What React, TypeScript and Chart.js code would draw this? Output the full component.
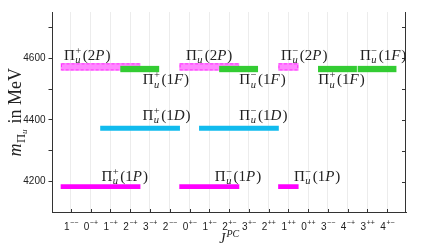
import { useEffect, useRef } from 'react';
import { Chart, registerables } from 'chart.js';

Chart.register(...registerables);

// ---- data ----
const xTickLabels = ['1--', '0-+', '1-+', '2-+', '3-+', '2--', '0+-', '1+-', '2+-', '3+-', '2++', '1++', '0++', '3--', '4-+', '3++', '4+-'];
const yTicks = [4200, 4300, 4400, 4500, 4600, 4700];
const yTickLabelled = [4200, 4400, 4600];

const spans1P = [[0.5, 4.5], [6.5, 9.5], [11.5, 12.5]];
const mass1P = [4184, 4184, 4184];
const spans1D = [[2.5, 6.5], [7.5, 11.5]];
const mass1D = [4373, 4373];
const spans2P = [[0.5, 4.5], [6.5, 9.5], [11.5, 12.5]];
const mass2P = [4572, 4572, 4572];
const spans1F = [[3.5, 5.5], [8.5, 10.5], [13.5, 15.5], [15.5, 17.5]];
const mass1F = [4565, 4565, 4565, 4565];

const labelSign = ['+', '−', '−', '−', '+', '−', '+', '+', '−', '+', '−', '−'];
const labelWave = ['2P', '2P', '2P', '1F', '1F', '1F', '1F', '1D', '1D', '1P', '1P', '1P'];
const labelX = [0.65, 6.82, 11.63, 15.62, 4.63, 9.52, 13.51, 4.62, 9.52, 2.55, 8.28, 12.28];
const labelY = [4594, 4594, 4594, 4594, 4515, 4515, 4515, 4401, 4401, 4202, 4202, 4202];

const SERIF = '"Liberation Serif", serif';
const SANS = '"Liberation Sans", sans-serif';

function toPoints(spans: number[][], masses: number[]) {
  return spans.map((s, i) => ({ x: s, y: masses[i] }));
}

function drawPiLabel(ctx: CanvasRenderingContext2D, x: number, y: number, S: number, sign: string, wave: string) {
  ctx.textAlign = 'left';
  ctx.textBaseline = 'alphabetic';
  ctx.font = `${S}px ${SERIF}`;
  ctx.fillText('Π', x, y);
  x += ctx.measureText('Π').width + 0.5;
  const s = S * 0.7;
  ctx.font = `italic ${s}px ${SERIF}`;
  ctx.fillText('u', x, y + S * 0.22);
  const wu = ctx.measureText('u').width;
  ctx.font = `${s}px ${SERIF}`;
  ctx.fillText(sign, x, y - S * 0.4);
  const ws = ctx.measureText(sign).width;
  x += Math.max(wu, ws) + 1.5;
  ctx.font = `${S}px ${SERIF}`;
  ctx.fillText('(' + wave[0], x, y);
  x += ctx.measureText('(' + wave[0]).width;
  ctx.font = `italic ${S}px ${SERIF}`;
  ctx.fillText(wave[1], x, y);
  x += ctx.measureText(wave[1]).width + 1;
  ctx.font = `${S}px ${SERIF}`;
  ctx.fillText(')', x, y);
}

const decorPlugin = {
  id: 'decor',
  afterDatasetDraw(chart: any, args: any) {
    if (args.meta.label !== 'twoP') return;
    const ctx = chart.ctx;
    ctx.save();
    ctx.strokeStyle = '#ff33ff';
    ctx.lineWidth = 1;
    ctx.setLineDash([3, 2]);
    args.meta.data.forEach((el: any) => {
      const p = el.getProps(['x', 'y', 'base', 'height'], true);
      const l = Math.min(p.x, p.base);
      const w = Math.abs(p.x - p.base);
      ctx.strokeRect(l + 0.5, p.y - p.height / 2 + 0.5, w - 1, p.height - 1);
    });
    ctx.restore();
  },
  afterDraw(chart: any) {
    const ctx = chart.ctx as CanvasRenderingContext2D;
    const xs = chart.scales.x;
    const ys = chart.scales.y;
    const a = chart.chartArea;
    ctx.save();
    // right spine + inward ticks
    ctx.strokeStyle = '#333';
    ctx.lineWidth = 1;
    const rx = Math.round(a.right) - 0.5;
    ctx.beginPath();
    ctx.moveTo(rx, a.top);
    ctx.lineTo(rx, a.bottom);
    yTicks.forEach((v) => {
      const py = Math.round(ys.getPixelForValue(v)) + 0.5;
      ctx.moveTo(rx, py);
      ctx.lineTo(rx - 3.5, py);
    });
    // x inward ticks
    xTickLabels.forEach((_, i) => {
      const px = Math.round(xs.getPixelForValue(i + 1)) + 0.5;
      ctx.moveTo(px, a.bottom);
      ctx.lineTo(px, a.bottom - 3.5);
    });
    ctx.stroke();

    // x tick labels with superscript signs
    ctx.fillStyle = '#222';
    ctx.textBaseline = 'alphabetic';
    ctx.textAlign = 'left';
    xTickLabels.forEach((lab, i) => {
      const cx = xs.getPixelForValue(i + 1);
      const digit = lab[0];
      const signs = lab.slice(1).replace(/-/g, '−');
      ctx.font = `10px ${SANS}`;
      const wd = ctx.measureText(digit).width;
      ctx.font = `7px ${SANS}`;
      const wsg = ctx.measureText(signs).width;
      let x0 = cx - (wd + wsg) / 2;
      ctx.font = `10px ${SANS}`;
      ctx.fillText(digit, x0, 229.5);
      ctx.font = `7px ${SANS}`;
      ctx.fillText(signs, x0 + wd + 0.5, 225);
    });

    // annotations
    ctx.fillStyle = '#222';
    labelSign.forEach((sg, i) => {
      drawPiLabel(ctx, xs.getPixelForValue(labelX[i]), ys.getPixelForValue(labelY[i]), 15, sg, labelWave[i]);
    });

    // x title J^{PC}
    {
      ctx.font = `italic 14px ${SERIF}`;
      const wJ = ctx.measureText('J').width;
      ctx.font = `italic 10px ${SERIF}`;
      const wPC = ctx.measureText('PC').width;
      const cx = (a.left + a.right) / 2;
      const x0 = cx - (wJ + wPC + 1) / 2;
      ctx.font = `italic 14px ${SERIF}`;
      ctx.fillText('J', x0, 243);
      ctx.font = `italic 10px ${SERIF}`;
      ctx.fillText('PC', x0 + wJ + 1, 237);
    }

    // y title m_{Π_u} in MeV
    {
      const S = 18;
      const parts: { t: string; f: string; dy: number; gap?: number }[] = [
        { t: 'm', f: `italic ${S}px ${SERIF}`, dy: 0 },
        { t: 'Π', f: `${S * 0.7}px ${SERIF}`, dy: S * 0.22, gap: 0.5 },
        { t: 'u', f: `italic ${S * 0.5}px ${SERIF}`, dy: S * 0.36 },
        { t: ' in MeV', f: `${S}px ${SERIF}`, dy: 0, gap: 1.5 },
      ];
      let total = 0;
      parts.forEach((p) => {
        ctx.font = p.f;
        total += ctx.measureText(p.t).width + (p.gap || 0);
      });
      const cy = (a.top + a.bottom) / 2;
      ctx.translate(21, cy);
      ctx.rotate(-Math.PI / 2);
      let x = -total / 2;
      parts.forEach((p) => {
        ctx.font = p.f;
        x += p.gap || 0;
        ctx.fillText(p.t, x, p.dy);
        x += ctx.measureText(p.t).width;
      });
    }
    ctx.restore();
  },
};

export default function App() {
  const ref = useRef<HTMLCanvasElement | null>(null);
  useEffect(() => {
    if (!ref.current) return;
    const chart = new Chart(ref.current, {
      type: 'bar',
      data: {
        datasets: [
          {
            label: 'oneF',
            data: toPoints(spans1F, mass1F) as any,
            backgroundColor: '#33cc33',
            borderColor: '#ffffff',
            borderWidth: { right: 1, left: 0, top: 0, bottom: 0 } as any,
            borderSkipped: false,
            barThickness: 6.5,
            grouped: false,
          },
          {
            label: 'twoP',
            data: toPoints(spans2P, mass2P) as any,
            backgroundColor: '#ff88ff',
            borderWidth: 0,
            barThickness: 7,
            grouped: false,
          },
          {
            label: 'oneD',
            data: toPoints(spans1D, mass1D) as any,
            backgroundColor: '#11bbee',
            borderWidth: 0,
            barThickness: 4.5,
            grouped: false,
          },
          {
            label: 'oneP',
            data: toPoints(spans1P, mass1P) as any,
            backgroundColor: '#ff00ff',
            borderWidth: 0,
            barThickness: 4,
            grouped: false,
          },
        ],
      },
      options: {
        animation: false,
        responsive: false,
        indexAxis: 'y',
        layout: { padding: { top: 12, right: 19, left: 0, bottom: 0 } },
        plugins: { legend: { display: false }, tooltip: { enabled: false } },
        scales: {
          x: {
            type: 'linear',
            min: 0.07,
            max: 17.95,
            afterBuildTicks: (s: any) => {
              s.ticks = xTickLabels.map((_, i) => ({ value: i + 1 }));
            },
            afterFit: (s: any) => {
              s.height = 35.5;
            },
            grid: { color: '#ececec', lineWidth: 1, drawTicks: false },
            border: { display: true, color: '#333', width: 1 },
            ticks: { display: false },
          },
          y: {
            type: 'linear',
            min: 4100,
            max: 4750,
            offset: false,
            afterBuildTicks: (s: any) => {
              s.ticks = yTicks.map((v) => ({ value: v }));
            },
            afterFit: (s: any) => {
              s.width = 52.5;
            },
            grid: { drawOnChartArea: false, drawTicks: true, tickLength: 4, color: '#333', offset: false },
            border: { display: true, color: '#333', width: 1 },
            ticks: {
              padding: 3,
              color: '#222',
              font: { family: 'Liberation Sans', size: 10 },
              callback: (v: any) => (yTickLabelled.includes(Number(v)) ? String(v) : ''),
            },
          },
        },
      } as any,
      plugins: [decorPlugin],
    });
    return () => chart.destroy();
  }, []);
  return (
    <div style={{ position: 'fixed', left: 0, top: 0, width: 425, height: 248, background: '#fff' }}>
      <canvas ref={ref} width={425} height={248} style={{ width: 425, height: 248, display: 'block' }} />
    </div>
  );
}
